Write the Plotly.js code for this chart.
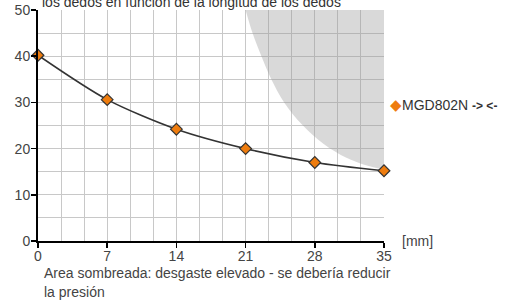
<!DOCTYPE html>
<html><head><meta charset="utf-8">
<script src="https://cdn.plot.ly/plotly-3.0.1.min.js"></script>
<style>html,body{margin:0;padding:0;background:#fff}#chart{width:522px;height:303px}</style>
</head><body><div id="chart"></div>
<script>
const fingerLength = [0, 7, 14, 21, 28, 35];
const gripForce = [40.2, 30.6, 24.2, 20.0, 17.0, 15.2];
const shadeX = [21.0, 21.7, 22.6, 23.6, 24.9, 26.8, 28.9, 31.2, 33.0, 35];
const shadeY = [50, 45, 40, 35, 30, 25, 21, 18, 16.5, 15.4];
const shadeTopX = [21.0, 35];
const shadeTopY = [50, 50];
const xTicks = [0, 7, 14, 21, 28, 35];
const yTicks = [0, 10, 20, 30, 40, 50];
const seriesName = 'MGD802N';

const font = 'Liberation Sans, Arial, sans-serif';
const traces = [
  {x: shadeTopX, y: shadeTopY, type: 'scatter', mode: 'lines',
   line: {width: 0, color: 'rgba(0,0,0,0)'}, hoverinfo: 'skip', showlegend: false},
  {x: shadeX, y: shadeY, type: 'scatter', mode: 'lines', fill: 'tonexty',
   fillcolor: 'rgba(150,150,150,0.36)', line: {width: 0, color: 'rgba(0,0,0,0)', shape: 'spline', smoothing: 1},
   hoverinfo: 'skip', showlegend: false},
  {x: fingerLength, y: gripForce, type: 'scatter', mode: 'lines+markers', name: seriesName,
   line: {color: '#333', width: 1.6, shape: 'spline', smoothing: 0.8},
   marker: {symbol: 'diamond', size: 9, color: '#ee7c0e', line: {color: '#333', width: 1.2}},
   cliponaxis: false, showlegend: false}
];
const layout = {
  width: 522, height: 303,
  margin: {l: 38, r: 138, t: 10, b: 62},
  paper_bgcolor: '#fff', plot_bgcolor: '#fff',
  font: {family: font, size: 14, color: '#444'},
  xaxis: {range: [0, 35], tickvals: xTicks, ticktext: xTicks.map(String),
    showgrid: true, gridcolor: '#c8c8c8', gridwidth: 1,
    minor: {dtick: 7/3, tick0: 0, showgrid: true, gridcolor: '#c8c8c8', gridwidth: 1},
    showline: true, linecolor: '#000', linewidth: 2, ticks: 'outside', ticklen: 5, tickcolor: '#000', tickwidth: 1.5,
    ticklabelstandoff: -4,
    zeroline: false, fixedrange: true, tickfont: {size: 14, color: '#444'}},
  yaxis: {range: [0, 50], tickvals: yTicks, ticktext: yTicks.map(String),
    showgrid: true, gridcolor: '#c8c8c8', gridwidth: 1,
    minor: {dtick: 5, tick0: 0, showgrid: true, gridcolor: '#c8c8c8', gridwidth: 1},
    showline: true, linecolor: '#000', linewidth: 2, ticks: 'outside', ticklen: 5, tickcolor: '#000', tickwidth: 1.5,
    ticklabelstandoff: -2,
    zeroline: false, fixedrange: true, tickfont: {size: 14, color: '#444'}},
  showlegend: false,
  annotations: [
    {xref: 'paper', yref: 'paper', x: 0.006, y: 1.035, xanchor: 'left', yanchor: 'middle',
     text: 'los dedos en función de la longitud de los dedos', showarrow: false,
     font: {size: 14, color: '#333'}},
    {xref: 'paper', yref: 'paper', x: 1.045, y: 0, xanchor: 'left', yanchor: 'middle',
     text: '[mm]', showarrow: false, font: {size: 14, color: '#444'}},
    {xref: 'paper', yref: 'paper', x: 0.012, y: -0.14, xanchor: 'left', yanchor: 'middle', align: 'left',
     text: 'Area sombreada: desgaste elevado - se debería reducir', showarrow: false,
     font: {size: 14, color: '#444'}},
    {xref: 'paper', yref: 'paper', x: 0.012, y: -0.222, xanchor: 'left', yanchor: 'middle', align: 'left',
     text: 'la presión', showarrow: false,
     font: {size: 14, color: '#444'}},
    {xref: 'paper', yref: 'paper', x: 1.012, y: 0.593, xanchor: 'left', yanchor: 'middle',
     text: '<span style="color:#ee7c0e;font-size:15px">◆</span>' + seriesName + ' <b style="font-size:12px">-> <-</b>', showarrow: false,
     font: {size: 14, color: '#333'}}
  ]
};
Plotly.newPlot('chart', traces, layout, {displayModeBar: false, staticPlot: true});
</script></body></html>
